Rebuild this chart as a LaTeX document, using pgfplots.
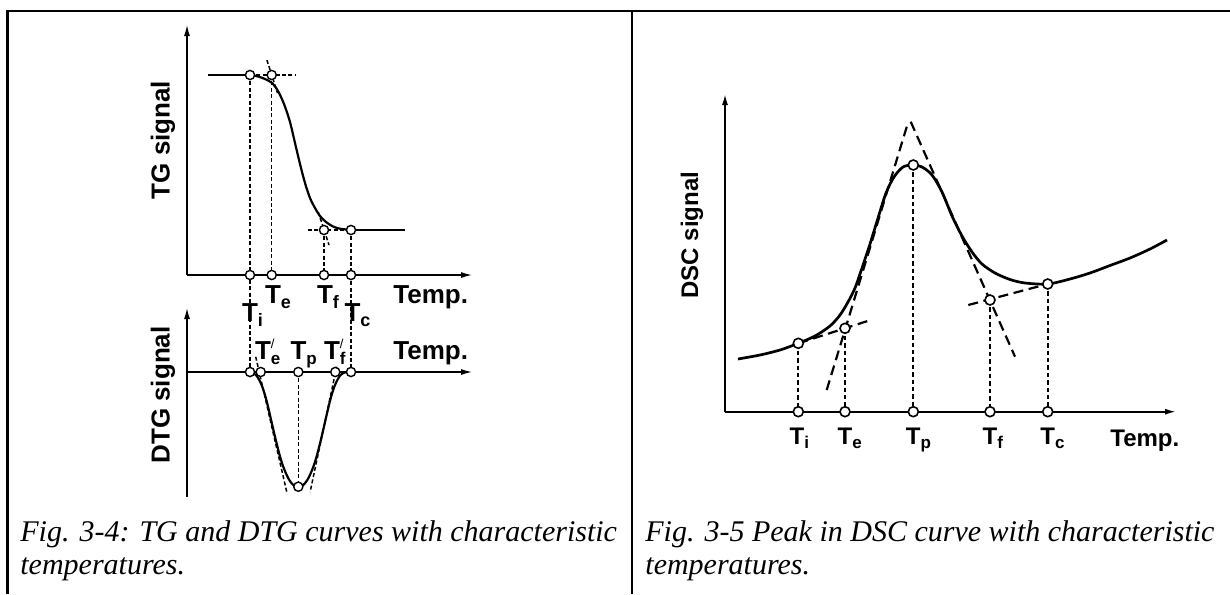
\documentclass[border=0pt]{standalone}
\usepackage{pgfplots}
\pgfplotsset{compat=1.18}
\usetikzlibrary{arrows.meta}
\usepackage{fontspec}
\setmainfont{Liberation Serif}
\newfontfamily\arial{Liberation Sans}
\newcommand{\lfont}{\arial\bfseries\fontsize{13pt}{15pt}\selectfont}
\newcommand{\rfont}{\arial\bfseries\fontsize{12pt}{14pt}\selectfont}
\newcommand{\capfont}{\fontsize{15pt}{18pt}\selectfont\itshape}
% T with subscript (subscript does not count in width)
\newcommand{\Ts}[2]{T\rlap{\raisebox{-0.2em}{\fontsize{#2}{#2}\selectfont #1}}}
\newcommand{\Tsp}[2]{T\rlap{\raisebox{0.42em}{\fontsize{6.5pt}{6.5pt}\selectfont\mdseries /}}\rlap{\raisebox{-0.2em}{\fontsize{#2}{#2}\selectfont #1}}}
\tikzset{
  arr/.style={-{Latex[length=5.5pt,width=3pt]}},
  dT/.style={line width=0.75pt, dash pattern=on 2pt off 1.2pt},
  dtan/.style={line width=1.1pt, dash pattern=on 5pt off 2.8pt},
  dvert/.style={line width=0.95pt, dash pattern=on 2.2pt off 1.5pt},
  omark/.style={only marks, mark=*, mark size=2.3pt, mark options={fill=white, draw=black, line width=0.7pt}},
  omarkR/.style={only marks, mark=*, mark size=2.5pt, mark options={fill=white, draw=black, line width=0.8pt}},
}
\begin{document}
\begin{tikzpicture}
\begin{axis}[name=ax, hide axis, scale only axis, width=615pt, height=297pt,
  xmin=0, xmax=1230, ymin=0, ymax=594, y dir=reverse, clip=false]
% ---------- frame ----------
\draw[line width=1.25pt] (axis cs:7.5,594) -- (axis cs:7.5,11) -- (axis cs:1230,11);
\draw[line width=1pt] (axis cs:632,11) -- (axis cs:632,594);

% ---------- TG panel ----------
\addplot[line width=0.65pt, arr] coordinates {(187,275) (187,25)};
\addplot[line width=0.65pt, arr] coordinates {(187,275) (472,275)};
% dashed helpers
\addplot[dT] coordinates {(250,75) (296,75)};
\addplot[dT] coordinates {(266.9,60) (277.5,93)};
\addplot[dT] coordinates {(308,230) (351,230)};
\addplot[dT] coordinates {(318.2,212) (329,245)};
\addplot[dT] coordinates {(250,75) (250,372)};
\addplot[dT] coordinates {(271.7,75) (271.7,275)};
\addplot[dT] coordinates {(324,230) (324,275)};
\addplot[dT] coordinates {(351,230) (351,372)};
% TG curve
\addplot[line width=1.1pt] coordinates {(208,75) (250,75)};
\addplot[line width=1.1pt, smooth] coordinates {(250,75) (258,76.5) (265,79) (272,83) (278,91) (284,104) (290,122) (295,143) (300,164) (305,183) (310,198) (315,208) (320,216) (326,222) (333,226.5) (340,228.7) (351,230)};
\addplot[line width=1.1pt] coordinates {(351,230) (405,230)};
\addplot[omark] coordinates {(250,75) (271.7,75) (324,230) (351,230) (250,275) (271.7,275) (324,275) (351,275)};

% ---------- DTG panel ----------
\addplot[line width=0.65pt, arr] coordinates {(187,497) (187,308)};
\addplot[line width=0.65pt, arr] coordinates {(187,372) (472,372)};
\addplot[dT] coordinates {(255.7,356.7) (286.7,491.7)};
\addplot[dT] coordinates {(336.7,366.7) (310.1,492)};
\addplot[dT] coordinates {(298.3,372) (298.3,486.7)};
\addplot[line width=1.1pt, smooth] coordinates {(250,372) (253,372.8) (256,375) (259,379.5) (262,386) (265,395) (268,406.5) (271,419.5) (274,432.5) (277,445) (280,456.5) (283,466) (286,473.5) (289,479.5) (292,483.7) (295,486.1) (298.3,486.7) (301.6,486.1) (304.6,483.7) (307.6,479.5) (310.6,473.5) (313.6,466) (316.6,456.5) (319.6,445) (322.6,432.5) (325.6,419.5) (328.6,406.5) (331.6,395) (334.6,386) (337.6,379.5) (340.6,375) (343.6,372.8) (346.6,372) (351,372)};
\addplot[omark] coordinates {(250,372) (260.7,372) (298.3,372) (335.3,372) (351,372) (298.3,486.7)};

% ---------- left labels ----------
\node[rotate=90, inner sep=0, anchor=center] at (axis cs:163,140) {\lfont TG signal};
\node[rotate=90, inner sep=0, anchor=center] at (axis cs:163,395) {\lfont DTG signal};
\node[inner sep=0, anchor=base] at (axis cs:273,303) {\lfont\Ts{e}{9pt}};
\node[inner sep=0, anchor=base] at (axis cs:325,303) {\lfont\Ts{f}{9pt}};
\node[inner sep=0, anchor=base] at (axis cs:250,321) {\lfont\Ts{i}{9pt}};
\node[inner sep=0, anchor=base] at (axis cs:352.5,321) {\lfont\Ts{c}{9pt}};
\node[inner sep=0, anchor=base west] at (axis cs:393,303) {\lfont Temp.};
\node[inner sep=0, anchor=base] at (axis cs:263,359.3) {\lfont\Tsp{e}{8.5pt}};
\node[inner sep=0, anchor=base] at (axis cs:298.5,359.3) {\lfont\Ts{p}{8.5pt}};
\node[inner sep=0, anchor=base] at (axis cs:332,359.3) {\lfont\Tsp{f}{8.5pt}};
\node[inner sep=0, anchor=base west] at (axis cs:393,359.3) {\lfont Temp.};

% ---------- DSC panel ----------
\addplot[line width=0.85pt, arr] coordinates {(725,411.7) (725,94)};
\addplot[line width=0.85pt, arr] coordinates {(725,411.7) (1176,411.7)};
\addplot[dtan] coordinates {(826.7,390) (908.3,121.7)};
\addplot[dtan] coordinates {(910.7,121.7) (1015,356.7)};
\addplot[dtan] coordinates {(798.3,343.3) (870.7,320)};
\addplot[dtan] coordinates {(968.3,305) (1047.7,284)};
\addplot[dvert] coordinates {(798.3,343.3) (798.3,411.7)};
\addplot[dvert] coordinates {(845,328.3) (845,411.7)};
\addplot[dvert] coordinates {(913.3,165) (913.3,411.7)};
\addplot[dvert] coordinates {(990,300) (990,411.7)};
\addplot[dvert] coordinates {(1047.7,284) (1047.7,411.7)};
\addplot[line width=1.35pt, smooth] coordinates {(738,359) (760,355) (780,350) (798.3,343.3) (815,336) (830,326) (840,315) (848,302) (855,288) (862,268) (870,244) (878,218) (886,193) (894,177) (903,167) (913,165) (922,167) (932,175) (942,192) (952,216) (962,236) (972,252) (982,264) (995,273) (1010,279.5) (1025,283) (1047.7,284) (1070,279) (1090,273) (1110,265.5) (1130,258) (1150,249) (1167,240)};
\addplot[omarkR] coordinates {(798.3,411.7) (845,411.7) (913.3,411.7) (990,411.7) (1047.7,411.7) (798.3,343.3) (845,328.3) (913.3,165) (990,300) (1047.7,284)};

% ---------- right labels ----------
\node[rotate=90, inner sep=0, anchor=center] at (axis cs:692,235) {\rfont DSC signal};
\node[inner sep=0, anchor=base] at (axis cs:797,444) {\rfont\Ts{i}{8.5pt}};
\node[inner sep=0, anchor=base] at (axis cs:845,444) {\rfont\Ts{e}{8.5pt}};
\node[inner sep=0, anchor=base] at (axis cs:913.3,444) {\rfont\Ts{p}{8.5pt}};
\node[inner sep=0, anchor=base] at (axis cs:990,444) {\rfont\Ts{f}{8.5pt}};
\node[inner sep=0, anchor=base] at (axis cs:1047.7,444) {\rfont\Ts{c}{8.5pt}};
\node[inner sep=0, anchor=base west] at (axis cs:1110,446) {\rfont Temp.};

% ---------- captions ----------
\node[inner sep=0, anchor=base west] at (axis cs:20,541) {\capfont Fig. 3-4: TG and DTG curves with characteristic};
\node[inner sep=0, anchor=base west] at (axis cs:20,574) {\capfont temperatures.};
\node[inner sep=0, anchor=base west] at (axis cs:645,541) {\capfont Fig. 3-5 Peak in DSC curve with characteristic};
\node[inner sep=0, anchor=base west] at (axis cs:645,574) {\capfont temperatures.};
\end{axis}
\pgfresetboundingbox
\path (ax.south west) rectangle (ax.north east);
\end{tikzpicture}
\end{document}
